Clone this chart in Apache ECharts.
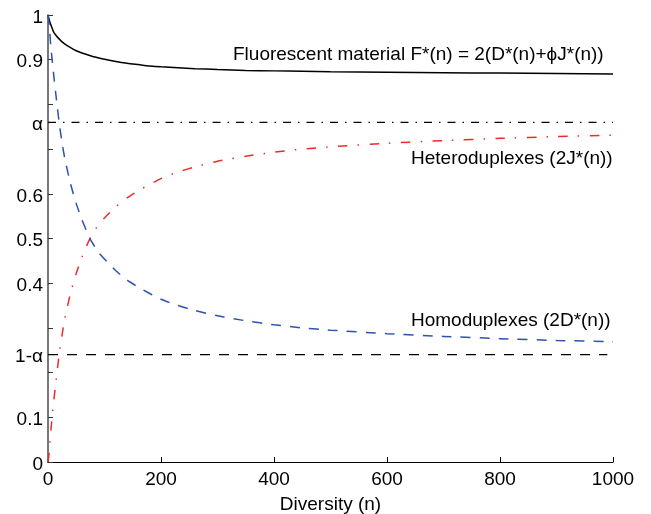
<!DOCTYPE html>
<html>
<head>
<meta charset="utf-8">
<style>
  html, body { margin: 0; padding: 0; background: #fff; }
  #chart { width: 651px; height: 514px; }
</style>
<script src="https://cdn.jsdelivr.net/npm/echarts@6/dist/echarts.min.js"></script>
</head>
<body>
<div id="chart"></div>
<script>
// Diversity values n at which the three curves are sampled
const diversity = [0, 2, 5, 10, 15, 20, 25, 30, 40, 50, 60, 75, 90, 100, 120, 140, 160, 180, 200,
  230, 260, 300, 350, 400, 450, 500, 600, 700, 800, 900, 1000];

// Fluorescent material F*(n) = 2(D*(n)+phi J*(n))
const fluorescent = [1.0, 0.99, 0.978, 0.962, 0.953, 0.946, 0.94, 0.935, 0.927, 0.92, 0.915, 0.909,
  0.904, 0.901, 0.896, 0.892, 0.889, 0.886, 0.884, 0.882, 0.88, 0.878, 0.876, 0.875, 0.874, 0.873,
  0.872, 0.871, 0.87, 0.869, 0.868];

// Heteroduplexes 2J*(n)
const heteroduplexes = [0, 0.02, 0.07, 0.135, 0.19, 0.243, 0.285, 0.323, 0.378, 0.422, 0.458, 0.502,
  0.532, 0.546, 0.571, 0.591, 0.607, 0.621, 0.634, 0.649, 0.66, 0.673, 0.684, 0.693, 0.7, 0.705,
  0.713, 0.719, 0.724, 0.728, 0.731];

// Homoduplexes 2D*(n)
const homoduplexes = [1.0, 0.98, 0.93, 0.867, 0.81, 0.757, 0.713, 0.677, 0.622, 0.578, 0.542, 0.498,
  0.468, 0.454, 0.428, 0.407, 0.391, 0.377, 0.364, 0.35, 0.339, 0.327, 0.316, 0.307, 0.3, 0.295,
  0.287, 0.281, 0.276, 0.272, 0.269];

// Threshold alpha and its complement
const alpha = 0.76;
const oneMinusAlpha = 0.24;

// Axis ticks and labels
const xTicks = [0, 200, 400, 600, 800, 1000];
const yTickValues = [0, 0.1, 0.2, oneMinusAlpha, 0.3, 0.4, 0.5, 0.6, 0.7, alpha, 0.8, 0.9, 1];
const yLabelValues = [0, 0.1, oneMinusAlpha, 0.4, 0.5, 0.6, alpha, 0.9, 1];

const FONT = '"Liberation Sans", Arial, Helvetica, sans-serif';
const FS = 19;

function pairs(xs, ys) { return xs.map((x, i) => [x, ys[i]]); }

const chart = echarts.init(document.getElementById('chart'), null, { renderer: 'canvas' });

chart.setOption({
  animation: false,
  backgroundColor: '#ffffff',
  grid: { left: 48, right: 38, top: 15, bottom: 52, containLabel: false, outerBoundsMode: 'none' },
  xAxis: {
    type: 'value', min: 0, max: 1000, interval: 200,
    name: 'Diversity (n)', nameLocation: 'middle', nameGap: 33,
    nameTextStyle: { fontFamily: FONT, fontSize: FS, color: '#000' },
    axisLine: { show: true, lineStyle: { color: '#000', width: 1.2 } },
    axisTick: { show: true, inside: true, length: 5, lineStyle: { color: '#000', width: 1 } },
    axisLabel: { fontFamily: FONT, fontSize: FS, color: '#000', margin: 8,
      customValues: xTicks, formatter: function (v) { return String(v); } },
    splitLine: { show: false }
  },
  yAxis: {
    type: 'value', min: 0, max: 1,
    axisLine: { show: true, lineStyle: { color: '#555', width: 1.6 } },
    axisTick: { show: true, inside: true, length: 5, lineStyle: { color: '#333', width: 1 },
      customValues: yTickValues },
    axisLabel: {
      fontFamily: FONT, fontSize: FS, color: '#000', margin: 5,
      customValues: yLabelValues,
      formatter: function (v) {
        let s = String(v);
        if (Math.abs(v - alpha) < 1e-9) s = 'α';
        else if (Math.abs(v - oneMinusAlpha) < 1e-9) s = '1-α';
        return '{t|' + s + '}';
      },
      rich: { t: { fontFamily: FONT, fontSize: FS, color: '#000', padding: [5, 0, 0, 0] } }
    },
    splitLine: { show: false }
  },
  series: [
    {
      name: 'alpha', type: 'line', data: [[0, alpha], [1000, alpha]],
      symbol: 'none', silent: true,
      lineStyle: { color: '#000', width: 1.2, type: [8, 7, 1.5, 7] }
    },
    {
      name: 'one minus alpha', type: 'line', data: [[0, oneMinusAlpha], [990, oneMinusAlpha]],
      symbol: 'none', silent: true,
      lineStyle: { color: '#000', width: 1.2, type: [10, 9] }
    },
    {
      name: 'Fluorescent material', type: 'line', data: pairs(diversity, fluorescent),
      symbol: 'none', smooth: 0.2,
      lineStyle: { color: '#000', width: 1.5, type: 'solid' }
    },
    {
      name: 'Heteroduplexes', type: 'line', data: pairs(diversity, heteroduplexes),
      symbol: 'none', smooth: 0.2,
      lineStyle: { color: '#ee2b2b', width: 1.5, type: [9.5, 10, 1.5, 10.5] }
    },
    {
      name: 'Homoduplexes', type: 'line', data: pairs(diversity, homoduplexes),
      symbol: 'none', smooth: 0.2,
      lineStyle: { color: '#2d52b0', width: 1.5, type: [10, 9] }
    }
  ],
  graphic: [
    { type: 'text', x: 233, y: 55, style: { text: 'Fluorescent material F*(n) = 2(D*(n)+ϕJ*(n))',
      fontFamily: FONT, fontSize: FS, fill: '#000', verticalAlign: 'middle' } },
    { type: 'text', x: 411, y: 159, style: { text: 'Heteroduplexes (2J*(n))',
      fontFamily: FONT, fontSize: FS, fill: '#000', verticalAlign: 'middle' } },
    { type: 'text', x: 411, y: 321, style: { text: 'Homoduplexes (2D*(n))',
      fontFamily: FONT, fontSize: FS, fill: '#000', verticalAlign: 'middle' } }
  ]
});
</script>
</body>
</html>
